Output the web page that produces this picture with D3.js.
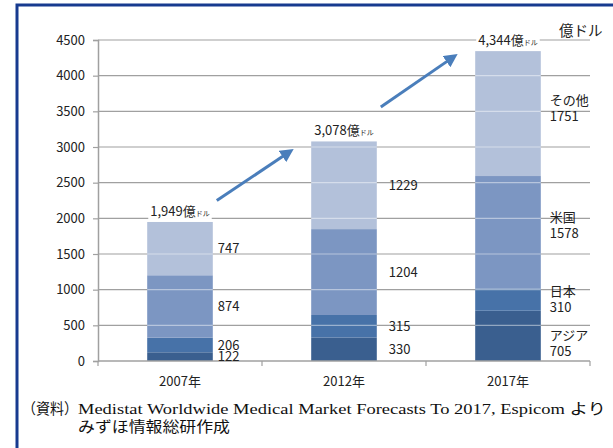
<!DOCTYPE html>
<html>
<head>
<meta charset="utf-8">
<script src="https://cdn.jsdelivr.net/npm/d3@7"></script>
<style>
  body { margin: 0; background: #fff; }
  svg { display: block; }
  .sans { font-family: "Noto Sans CJK JP", "Open Sans", sans-serif; }
  .serif { font-family: "Liberation Serif", "Noto Sans CJK JP", serif; }
</style>
</head>
<body>
<div id="chart"></div>
<script>
'use strict';

// Data
var years = ['2007年', '2012年', '2017年']
var series = ['アジア', '日本', '米国', 'その他']
var asia = [122, 330, 705]
var japan = [206, 315, 310]
var usa = [874, 1204, 1578]
var other = [747, 1229, 1751]
var totals = ['1,949', '3,078', '4,344']
var yTicks = [0, 500, 1000, 1500, 2000, 2500, 3000, 3500, 4000, 4500]
// arrows between totals, in data values (start, end)
var arrowFrom = [2250, 3560]
var arrowTo = [2930, 4260]
var colors = ['#3a5f8f', '#4772a8', '#7c96c2', '#b3c1da']

var W = 613, H = 448
var svg = d3.select('#chart').append('svg')
  .attr('width', W)
  .attr('height', H)

var plot = {left: 98, right: 590, top: 40, bottom: 361}

var x = d3.scaleBand().domain(years).range([plot.left, plot.right]).padding(0)
var y = d3.scaleLinear().domain([0, 4500]).range([plot.bottom, plot.top])
var barW = x.bandwidth() * 0.4

var values = [asia, japan, usa, other]
var stackData = years.map(function(yr, i) {
  var row = { year: yr }
  series.forEach(function(s, j) { row[s] = values[j][i] })
  return row
})
var stacked = d3.stack().keys(series)(stackData)

function barX(yr) { return x(yr) + (x.bandwidth() - barW) / 2 }

// frame
svg.append('path')
  .attr('d', 'M17,' + H + 'V5H' + W)
  .attr('fill', 'none')
  .attr('stroke', '#173a8f')
  .attr('stroke-width', 3)

// gridlines
var g = svg.append('g')
g.selectAll('.grid')
  .data(yTicks.slice(1))
  .enter().append('line')
    .attr('x1', plot.left).attr('x2', plot.right)
    .attr('y1', function(d) { return y(d) }).attr('y2', function(d) { return y(d) })
    .attr('stroke', '#a0a0a0')
    .attr('stroke-width', 1.2)

// bars
var layers = g.selectAll('.layer')
  .data(stacked)
  .enter().append('g')
    .attr('fill', function(d, i) { return colors[i] })

layers.selectAll('rect')
  .data(function(d) { return d })
  .enter().append('rect')
    .attr('x', function(d) { return barX(d.data.year) })
    .attr('width', barW)
    .attr('y', function(d) { return y(d[1]) })
    .attr('height', function(d) { return y(d[0]) - y(d[1]) })

// light gridlines over bars
years.forEach(function(yr, i) {
  var tot = stackData[i]
  var sum = d3.sum(series, function(s) { return tot[s] })
  g.selectAll(null)
    .data(yTicks.filter(function(t) { return t > 0 && t < sum }))
    .enter().append('line')
      .attr('x1', barX(yr)).attr('x2', barX(yr) + barW)
      .attr('y1', function(d) { return y(d) }).attr('y2', function(d) { return y(d) })
      .attr('stroke', '#fff')
      .attr('stroke-opacity', 0.45)
      .attr('stroke-width', 1.2)
})

// axes
var yAxis = d3.axisLeft(y).tickValues(yTicks).tickFormat(d3.format('d'))
  .tickSize(5).tickPadding(8)
var ya = svg.append('g')
  .attr('transform', 'translate(' + plot.left + ',0)')
  .call(yAxis)
ya.select('.domain').attr('stroke', '#a0a0a0').attr('stroke-width', 1.5)
ya.selectAll('.tick line').attr('stroke', '#a0a0a0').attr('stroke-width', 1.2)
ya.selectAll('.tick text')
  .attr('class', 'sans')
  .attr('fill', '#222')
  .style('font-size', '13px')

var xa = svg.append('g')
  .attr('transform', 'translate(0,' + plot.bottom + ')')
xa.append('line')
  .attr('x1', plot.left).attr('x2', plot.right)
  .attr('stroke', '#a0a0a0').attr('stroke-width', 1.5)
xa.selectAll('.xtick')
  .data(years.map(function(yr) { return x(yr) }).concat([plot.right]))
  .enter().append('line')
    .attr('x1', function(d) { return d }).attr('x2', function(d) { return d })
    .attr('y1', 0).attr('y2', 5)
    .attr('stroke', '#a0a0a0').attr('stroke-width', 1.2)
xa.selectAll('.xlabel')
  .data(years)
  .enter().append('text')
    .attr('class', 'sans')
    .attr('x', function(d) { return x(d) + x.bandwidth() / 2 })
    .attr('y', 25)
    .attr('text-anchor', 'middle')
    .attr('fill', '#222')
    .style('font-size', '13px')
    .text(function(d) { return d })

// value labels; the last bar carries series names too, nudged like the original
var nameShift = [8, 0, -7, -5]
stacked.forEach(function(layer, j) {
  layer.forEach(function(d, i) {
    var mid = y((d[0] + d[1]) / 2)
    var lx = barX(d.data.year) + barW + (i === 0 ? 5 : 12)
    if (i < 2) {
      svg.append('text')
        .attr('class', 'sans')
        .attr('x', lx)
        .attr('y', mid)
        .attr('dy', '0.35em')
        .attr('fill', '#222')
        .style('font-size', '13px')
        .text(d[1] - d[0])
    } else {
      lx = barX(d.data.year) + barW + 9
      var cy = mid + nameShift[j]
      svg.append('text')
        .attr('class', 'sans')
        .attr('x', lx)
        .attr('y', cy - 8)
        .attr('dy', '0.35em')
        .attr('fill', '#222')
        .style('font-size', '13px')
        .text(series[j])
      svg.append('text')
        .attr('class', 'sans')
        .attr('x', lx)
        .attr('y', cy + 8)
        .attr('dy', '0.35em')
        .attr('fill', '#222')
        .style('font-size', '13px')
        .text(d[1] - d[0])
    }
  })
})

// totals
var topLayer = stacked[stacked.length - 1]
topLayer.forEach(function(d, i) {
  var cx = x(d.data.year) + x.bandwidth() / 2
  var t = svg.append('text')
    .attr('class', 'sans')
    .attr('x', cx)
    .attr('y', y(d[1]) - 6)
    .attr('text-anchor', 'middle')
    .attr('fill', '#222')
    .style('font-size', '13px')
  t.append('tspan').text(totals[i] + '億')
  t.append('tspan').style('font-size', '7px').text('ドル')
  var bb = t.node().getBBox()
  svg.insert('rect', function() { return t.node() })
    .attr('x', bb.x - 2).attr('y', bb.y + 2)
    .attr('width', bb.width + 4).attr('height', bb.height - 3)
    .attr('fill', '#fff')
})

// unit label
svg.append('text')
  .attr('class', 'sans')
  .attr('x', 559)
  .attr('y', 36)
  .attr('fill', '#222')
  .style('font-size', '14.5px')
  .text('億ドル')

// arrows
var defs = svg.append('defs')
defs.append('marker')
  .attr('id', 'head')
  .attr('viewBox', '0 0 10 10')
  .attr('refX', 6).attr('refY', 5)
  .attr('markerWidth', 4.5).attr('markerHeight', 4.5)
  .attr('orient', 'auto')
  .append('path')
    .attr('d', 'M0,0L10,5L0,10Z')
    .attr('fill', '#4a7ebb')

arrowFrom.forEach(function(v, i) {
  var x1 = barX(years[i]) + barW + 4
  var x2 = barX(years[i + 1]) - 22
  svg.append('line')
    .attr('x1', x1).attr('y1', y(v))
    .attr('x2', x2).attr('y2', y(arrowTo[i]))
    .attr('stroke', '#4a7ebb')
    .attr('stroke-width', 3)
    .attr('marker-end', 'url(#head)')
})

// source note
var note = svg.append('g').attr('class', 'serif').attr('fill', '#111')
note.append('text')
  .attr('x', 22).attr('y', 414)
  .attr('textLength', 56)
  .attr('lengthAdjust', 'spacingAndGlyphs')
  .style('font-size', '15px')
  .text('（資料）')
note.append('text')
  .attr('x', 78).attr('y', 414)
  .attr('textLength', 528)
  .attr('lengthAdjust', 'spacingAndGlyphs')
  .style('font-size', '15px')
  .text('Medistat Worldwide Medical Market Forecasts To 2017, Espicom より')
note.append('text')
  .attr('x', 78).attr('y', 432)
  .attr('textLength', 152)
  .attr('lengthAdjust', 'spacingAndGlyphs')
  .style('font-size', '15px')
  .text('みずほ情報総研作成')
</script>
</body>
</html>
